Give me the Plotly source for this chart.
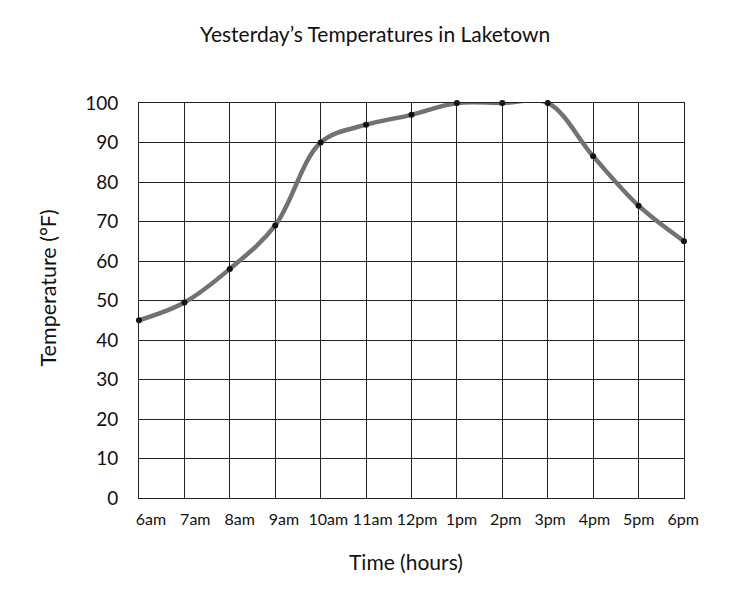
import plotly.graph_objects as go

hours = list(range(13))
hour_labels = ["6am", "7am", "8am", "9am", "10am", "11am", "12pm", "1pm", "2pm", "3pm", "4pm", "5pm", "6pm"]
temps = [45, 49.5, 58, 69, 90, 94.5, 97, 100, 100, 100, 86.5, 74, 65]
y_ticks = [0, 10, 20, 30, 40, 50, 60, 70, 80, 90, 100]

FONT = "Lato"
INK = "#111111"

fig = go.Figure()
fig.add_trace(go.Scatter(
    x=hours, y=temps, mode="lines",
    line=dict(color="#727272", width=4.5, shape="spline", smoothing=1.0),
    hoverinfo="skip", showlegend=False,
))
fig.add_trace(go.Scatter(
    x=hours, y=temps, mode="markers",
    marker=dict(color=INK, size=6),
    cliponaxis=False, showlegend=False,
))
# invisible trace carrying the (slightly offset) hour labels axis
fig.add_trace(go.Scatter(
    x=hours, y=temps, mode="markers", xaxis="x2",
    marker=dict(opacity=0), hoverinfo="skip", showlegend=False,
))

fig.update_layout(
    width=740, height=610,
    margin=dict(l=139, r=56, t=103, b=112),
    paper_bgcolor="white", plot_bgcolor="white",
    font=dict(family=FONT, color=INK),
    title=dict(text="Yesterday’s Temperatures in Laketown", x=0.507, xanchor="center",
               y=0.943, yanchor="middle", font=dict(size=21, family=FONT, color=INK)),
    xaxis=dict(
        range=[0, 12], tickvals=hours, showticklabels=False,
        showgrid=True, gridcolor="#222222", gridwidth=1,
        showline=True, linecolor="#222222", linewidth=1, mirror=True,
        zeroline=False, ticks="",
    ),
    xaxis2=dict(
        overlaying="x", anchor="y", side="bottom",
        range=[-0.27, 12.02], tickvals=hours, ticktext=hour_labels,
        showgrid=False, showline=False, zeroline=False, ticks="",
        ticklabelstandoff=10, tickfont=dict(size=16, family=FONT, color=INK),
    ),
    yaxis=dict(
        range=[0, 100], tickvals=y_ticks,
        showgrid=True, gridcolor="#222222", gridwidth=1,
        showline=True, linecolor="#222222", linewidth=1, mirror=True,
        zeroline=False, ticks="", ticklabelstandoff=16,
        tickfont=dict(size=19, family=FONT, color=INK),
    ),
    annotations=[
        dict(text="Time (hours)", xref="paper", yref="paper", x=0.489, y=-0.162,
             xanchor="center", yanchor="middle", showarrow=False,
             font=dict(size=21, family=FONT, color=INK)),
        dict(text="Temperature (°F)", xref="paper", yref="paper", x=-0.167, y=0.533,
             xanchor="center", yanchor="middle", textangle=-90, showarrow=False,
             font=dict(size=21.5, family=FONT, color=INK)),
    ],
)

fig.write_html("out.html")
